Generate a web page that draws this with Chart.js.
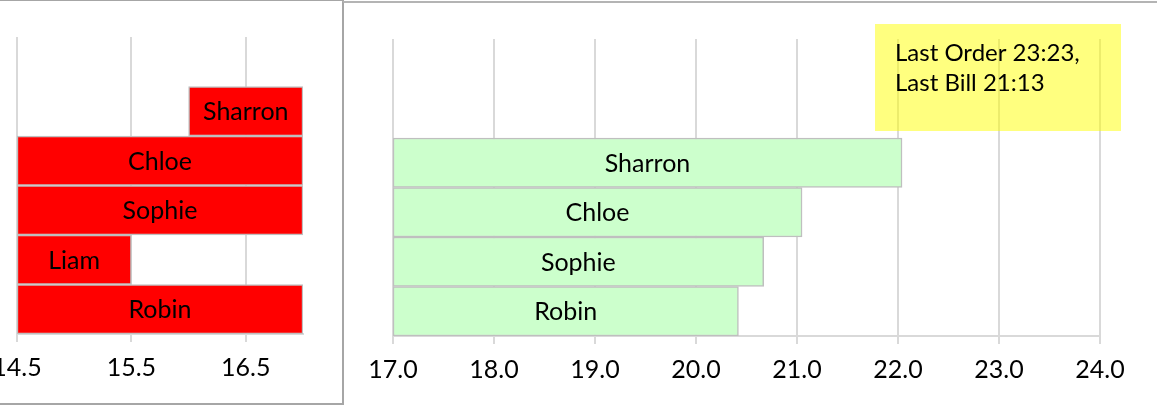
<!DOCTYPE html>
<html>
<head>
<meta charset="utf-8">
<script src="https://cdn.jsdelivr.net/npm/chart.js@4"></script>
<style>
  html, body { margin: 0; padding: 0; background: #fff; width: 1157px; height: 405px; overflow: hidden; position: relative; }
  #leftBox { position: absolute; left: -10px; top: 0; width: 354px; height: 405px; box-sizing: border-box;
             border-top: 1px solid #a6a6a6; border-right: 2px solid #a6a6a6; border-bottom: 2px solid #a6a6a6; }
  #rightBox { position: absolute; left: 342px; top: 1px; width: 900px; height: 500px; box-sizing: border-box;
              border-top: 2px solid #b4b4b4; border-left: 2px solid #a6a6a6; }
  #chartLeft { position: absolute; left: -60px; top: 1px; }
  #chartRight { position: absolute; left: 344px; top: 3px; }
</style>
</head>
<body>
<div id="leftBox"></div>
<div id="rightBox"></div>
<canvas id="chartLeft" width="402" height="402"></canvas>
<canvas id="chartRight" width="813" height="402"></canvas>
<script>
// left chart - floating bars, top row empty
const leftNames = ['Sharron', 'Chloe', 'Sophie', 'Liam', 'Robin'];
const leftStart = [16.0, 14.5, 14.5, 14.5, 14.5];
const leftEnd   = [17.0, 17.0, 17.0, 15.5, 17.0];
const leftTicks = [14.5, 15.5, 16.5];
const leftEmptyRows = 1;

// right chart - two empty rows on top
const rightNames = ['Sharron', 'Chloe', 'Sophie', 'Robin'];
const rightStart = [17.0, 17.0, 17.0, 17.0];
const rightEnd   = [22.04, 21.05, 20.67, 20.42];
const rightTicks = [17, 18, 19, 20, 21, 22, 23, 24];
const rightEmptyRows = 2;

const noteLines = ['Last Order 23:23,', 'Last Bill 21:13'];

const FONT = 'Lato';
Chart.defaults.font.family = FONT;
Chart.defaults.font.size = 25;
Chart.defaults.color = '#000';

// name written in the middle of the visible part of each bar
const barNames = {
    id: 'barNames',
    afterDatasetsDraw(chart) {
        const ctx = chart.ctx;
        const area = chart.chartArea;
        const meta = chart.getDatasetMeta(0);
        ctx.save();
        ctx.font = '25px ' + FONT;
        ctx.fillStyle = '#000';
        ctx.textAlign = 'center';
        ctx.textBaseline = 'middle';
        meta.data.forEach((bar, i) => {
            const name = chart.data.labels[i];
            if (!name || chart.data.datasets[0].data[i] == null) return;
            const l = Math.max(Math.min(bar.x, bar.base), area.left);
            const r = Math.min(Math.max(bar.x, bar.base), area.right);
            ctx.fillText(name, (l + r) / 2, bar.y + 1);
        });
        ctx.restore();
    }
};

// yellow text box top right
const noteBox = {
    id: 'noteBox',
    afterDatasetsDraw(chart) {
        const ctx = chart.ctx;
        const area = chart.chartArea;
        const x = area.right - 225, y = area.top - 15;
        ctx.save();
        ctx.fillStyle = 'rgba(255,255,0,0.5)';
        ctx.fillRect(x, y, 246, 107);
        ctx.fillStyle = '#000';
        ctx.font = '24px ' + FONT;
        ctx.textAlign = 'left';
        ctx.textBaseline = 'middle';
        noteLines.forEach((t, i) => ctx.fillText(t, x + 20, y + 29 + i * 30));
        ctx.restore();
    }
};

function rows(empty, names) {
    return Array(empty).fill('').concat(names);
}
function spans(empty, start, end) {
    return Array(empty).fill(null).concat(start.map((s, i) => [s, end[i]]));
}

function makeOptions(min, max, ticks, padding) {
    return {
        indexAxis: 'y',
        responsive: false,
        animation: false,
        layout: { padding: padding },
        plugins: { legend: { display: false }, tooltip: { enabled: false } },
        scales: {
            x: {
                type: 'linear',
                min: min,
                max: max,
                afterBuildTicks: s => { s.ticks = ticks.map(v => ({ value: v })); },
                afterFit: s => { s.height = 69; },
                ticks: {
                    callback: v => Number(v).toFixed(1),
                    autoSkip: false,
                    maxRotation: 0,
                    padding: 11,
                    font: { size: 25 }
                },
                grid: { color: '#d9d9d9', lineWidth: 2, tickLength: 8 },
                border: { color: '#d9d9d9', width: 2 }
            },
            y: { type: 'category', display: false }
        }
    };
}

let chartLeft = new Chart(document.getElementById('chartLeft'), {
    type: 'bar',
    data: {
        labels: rows(leftEmptyRows, leftNames),
        datasets: [{
            data: spans(leftEmptyRows, leftStart, leftEnd),
            backgroundColor: '#ff0000',
            borderColor: '#bfbfbf',
            borderWidth: 1.5,
            borderSkipped: false,
            barPercentage: 1,
            categoryPercentage: 1
        }]
    },
    options: makeOptions(14.5, 17.0, leftTicks, { left: 77, right: 39, top: 36, bottom: 0 }),
    plugins: [barNames]
});

let chartRight = new Chart(document.getElementById('chartRight'), {
    type: 'bar',
    data: {
        labels: rows(rightEmptyRows, rightNames),
        datasets: [{
            data: spans(rightEmptyRows, rightStart, rightEnd),
            backgroundColor: '#ccffcc',
            borderColor: '#bfbfbf',
            borderWidth: 1.5,
            borderSkipped: false,
            barPercentage: 1,
            categoryPercentage: 1
        }]
    },
    options: makeOptions(17, 24, rightTicks, { left: 49, right: 57, top: 36, bottom: 0 }),
    plugins: [barNames, noteBox]
});
</script>
</body>
</html>
